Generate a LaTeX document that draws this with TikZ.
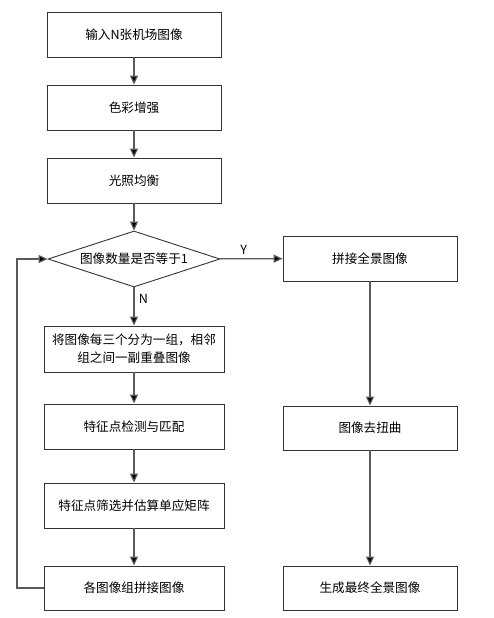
\documentclass[tikz,border=0pt]{standalone}
\usepackage{fontspec}
\setmainfont{Noto Sans CJK SC}
\usetikzlibrary{arrows.meta,shapes.geometric}
\begin{document}
\begin{tikzpicture}[x=1pt,y=-1pt,
  box/.style={draw=black!80,line width=0.9pt,fill=white,minimum width=176pt,minimum height=45pt,inner sep=1pt,font=\fontsize{12.6}{18}\selectfont,align=center},
  rbox/.style={box,minimum width=174pt},
  dia/.style={draw=black!80,line width=0.9pt,diamond,aspect=3.07,inner sep=0pt,minimum width=172pt,minimum height=56pt,font=\fontsize{12.6}{14}\selectfont},
  conn/.style={draw=black!65,line width=1.2pt,-{Triangle[length=9pt,width=8pt,fill=black]}},
  lbl/.style={font=\fontsize{12.6}{14}\selectfont}]
\useasboundingbox (0,0) rectangle (493,618);
\node[box,minimum width=174pt] (b1) at (134,34.5) {输入N张机场图像};
\node[box,minimum width=174pt] (b2) at (134,107.5) {色彩增强};
\node[box,minimum width=174pt] (b3) at (134,180.5) {光照均衡};
\node[dia] (d) at (134,259) {图像数量是否等于1};
\node[box,minimum width=180pt,minimum height=46pt] (b4) at (134,349) {将图像每三个分为一组，相邻\\组之间一副重叠图像};
\node[box,minimum width=180pt] (b5) at (134,426.5) {特征点检测与匹配};
\node[box,minimum width=180pt] (b6) at (134,505.5) {特征点筛选并估算单应矩阵};
\node[box,minimum width=180pt,minimum height=44pt] (b7) at (134,588) {各图像组拼接图像};
\node[rbox] (r1) at (370,258.5) {拼接全景图像};
\node[rbox,minimum height=44pt] (r2) at (370,428) {图像去扭曲};
\node[rbox,minimum height=44pt] (r3) at (370,588) {生成最终全景图像};
\coordinate (lb) at (17,588);
\coordinate (lt) at (17,259);
\draw[conn] (b1) -- (b2);
\draw[conn] (b2) -- (b3);
\draw[conn] (b3) -- (d);
\draw[conn] (d) -- node[lbl,right,pos=0.3,xshift=1pt] {N} (b4);
\draw[conn] (d) -- node[lbl,above,pos=0.38] {Y} (r1);
\draw[conn] (b4) -- (b5);
\draw[conn] (b5) -- (b6);
\draw[conn] (b6) -- (b7);
\draw[conn] (r1) -- (r2);
\draw[conn] (r2) -- (r3);
\draw[conn] (b7.west) -- (lb) -- (lt) -- (d.west);
\end{tikzpicture}
\end{document}
